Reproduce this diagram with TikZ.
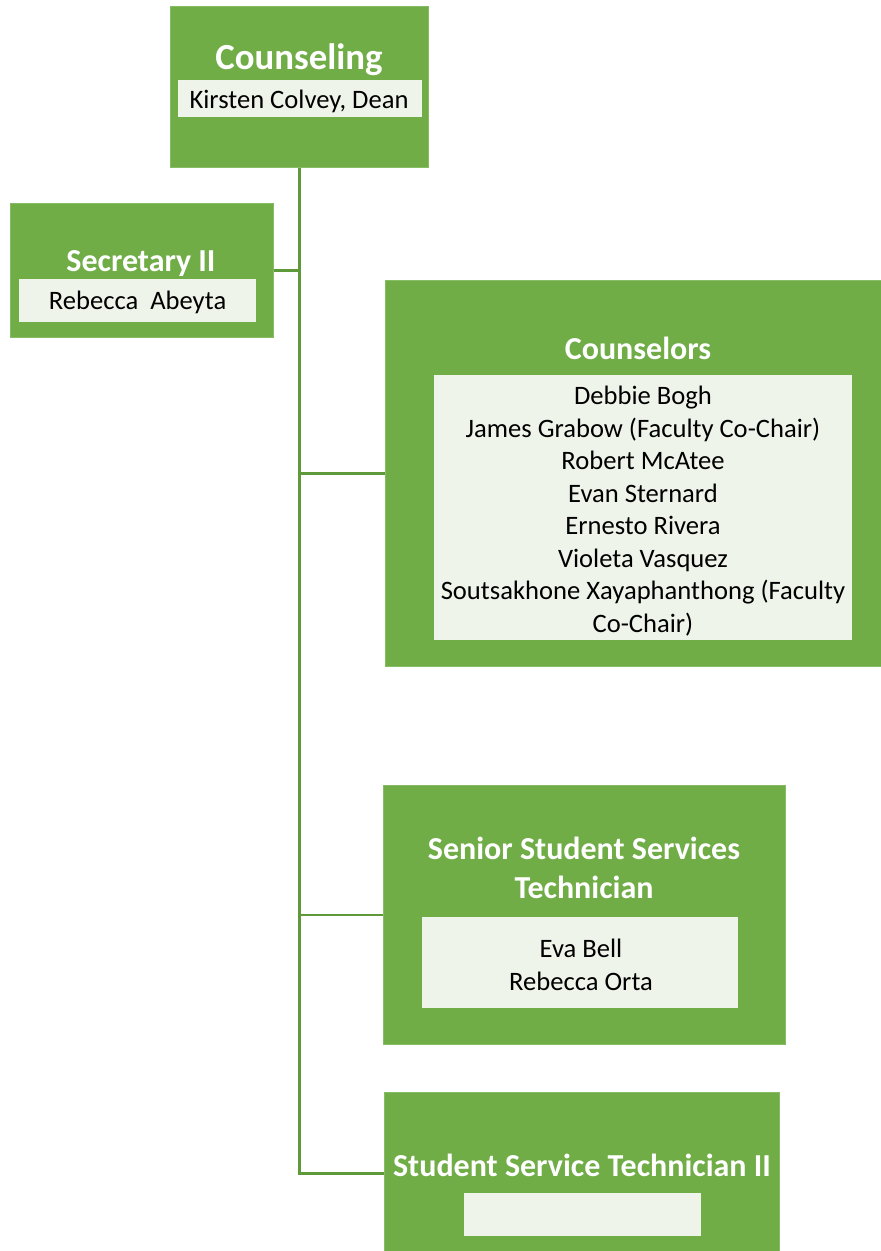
\documentclass[tikz,border=0pt]{standalone}
\usepackage{fontspec}
\setmainfont{Carlito}
\definecolor{boxgreen}{HTML}{70AD47}
\definecolor{boxedge}{HTML}{86BC63}
\definecolor{inner}{HTML}{EFF4EA}
\definecolor{linegreen}{HTML}{5E9A3A}
\tikzset{
  gbox/.style={fill=boxgreen, draw=boxedge, line width=0.8pt, inner sep=0pt, anchor=north west},
  ibox/.style={fill=inner, draw=none, inner sep=0pt, anchor=north west},
  ttl/.style={text=white, font=\fontsize{32}{39}\selectfont\bfseries, align=center, inner sep=0pt},
  nm/.style={text=black, font=\fontsize{26.6}{32.5}\selectfont, align=center, inner sep=0pt},
  conn/.style={draw=linegreen, line width=2.6pt}
}
\begin{document}
\begin{tikzpicture}[x=1pt,y=-1pt]
\useasboundingbox (0,0) rectangle (881,1251);
\clip (0,0) rectangle (881,1251);
% Counseling
\node[gbox, minimum width=258pt, minimum height=161pt] (dean) at (170,6) {};
\node[ibox, minimum width=244pt, minimum height=37pt] (deanin) at (178,80) {};
\node[ttl, font=\fontsize{36.8}{39}\selectfont\bfseries] (deant) at (299,60) {Counseling};
\node[nm] (deann) at (299,101) {Kirsten Colvey, Dean};
% Secretary
\node[gbox, minimum width=263pt, minimum height=134pt] (sec) at (10,203) {};
\node[ibox, minimum width=237pt, minimum height=43pt] (secin) at (19,279) {};
\node[ttl] (sect) at (141,264) {Secretary II};
\node[nm] (secn) at (137.5,302) {Rebecca\ \ Abeyta};
% Counselors
\node[gbox, minimum width=516pt, minimum height=386pt] (cou) at (385,280) {};
\node[ibox, minimum width=418pt, minimum height=265pt] (couin) at (434,375) {};
\node[ttl] (cout) at (638,348) {Counselors};
\node[nm] (coun) at (643,511) {Debbie Bogh\\James Grabow (Faculty Co-Chair)\\Robert McAtee\\Evan Sternard\\Ernesto Rivera\\Violeta Vasquez\\Soutsakhone Xayaphanthong (Faculty\\Co-Chair)};
% Senior SST
\node[gbox, minimum width=402pt, minimum height=259pt] (sst) at (383,785) {};
\node[ibox, minimum width=316pt, minimum height=91pt] (sstin) at (422,917) {};
\node[ttl] (sstt) at (584,868) {Senior Student Services\\Technician};
\node[nm] (sstn) at (581,965) {Eva Bell\\Rebecca Orta};
% Student Service Technician II
\node[gbox, minimum width=395pt, minimum height=162pt] (st2) at (384,1092) {};
\node[ibox, minimum width=237pt, minimum height=43pt] (st2in) at (464,1193) {};
\node[ttl] (st2t) at (582,1165) {Student Service Technician II};
% connectors
\draw[conn] (dean.south) -- (dean.south |- st2.west) -- (st2.west);
\draw[conn] (dean.south |- sec.east) -- (sec.east);
\draw[conn] (dean.south |- cou.west) -- (cou.west);
\draw[conn] (dean.south |- sst.west) -- (sst.west);
\end{tikzpicture}
\end{document}
